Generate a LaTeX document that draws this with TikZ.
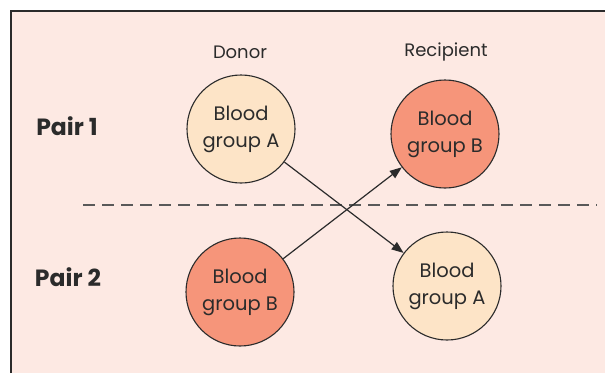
\documentclass[tikz,border=0pt]{standalone}
\usepackage{fontspec}
\setmainfont{Poppins}
\usepackage{tikz}
\usetikzlibrary{arrows.meta,positioning}
\definecolor{bgpink}{HTML}{FDE9E3}
\definecolor{lightgrp}{HTML}{FDE4C7}
\definecolor{darkgrp}{HTML}{F6957A}
\definecolor{inkgray}{HTML}{2B2B2B}
\tikzset{
  >={Triangle[length=12pt, width=9pt]},
  grp/.style={draw=inkgray, circle, line width=1.1pt, minimum size=108pt, inner sep=0pt, align=center, font=\fontsize{19.5}{27}\selectfont, text=inkgray},
  grpA/.style={grp, fill=lightgrp},
  grpB/.style={grp, fill=darkgrp},
  hdr/.style={font=\fontsize{18}{21}\selectfont, text=inkgray},
  pair/.style={font=\bfseries\fontsize{23.5}{27}\selectfont, text=inkgray},
  flow/.style={->, line width=1.2pt, draw=inkgray},
}
\begin{document}
\begin{tikzpicture}[x=1pt, y=-1pt]
  \useasboundingbox (0,0) rectangle (605,373);
  \fill[bgpink] (11,11) rectangle (605,373);
  \draw[inkgray, line width=1.2pt] (11,373) -- (11,11) -- (605,11);
  \draw[dash pattern=on 12pt off 7pt, black!65, line width=1.3pt] (83,205) -- (597,205);
  \node[hdr] (don) at (240,52) {Donor};
  \node[hdr] (rec) at (446,52) {Recipient};
  \node[pair] (p1) at (67,126) {Pair 1};
  \node[pair] (p2) at (68,277) {Pair 2};
  \node[grpA] (d1) at (241,129) {Blood\\group A};
  \node[grpB] (r1) at (445,134) {Blood\\group B};
  \node[grpB] (d2) at (240,292) {Blood\\group B};
  \node[grpA] (r2) at (447,286) {Blood\\group A};
  \draw[flow] (d1) -- (r2);
  \draw[flow] (d2) -- (r1);
\end{tikzpicture}
\end{document}
